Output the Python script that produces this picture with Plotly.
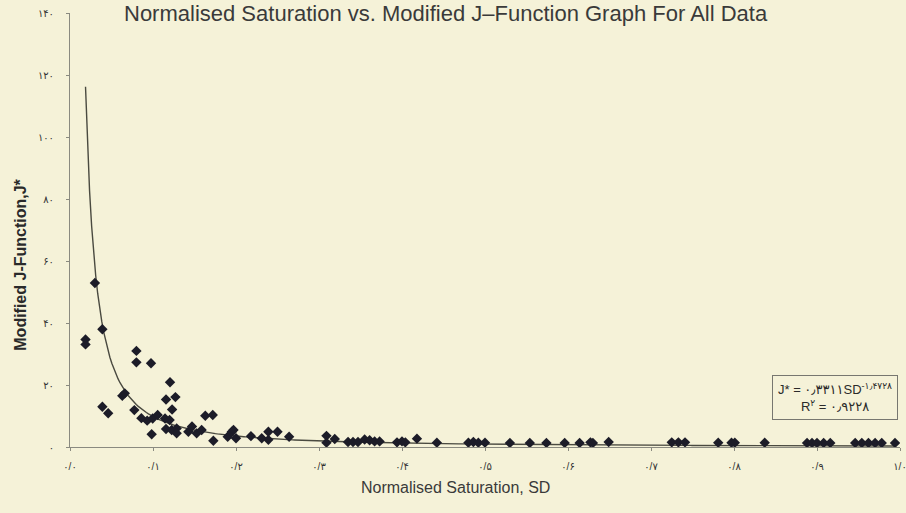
import numpy as np
import plotly.graph_objects as go

# ---- data ----
sd = [0.0187, 0.0187, 0.030, 0.039, 0.039, 0.046, 0.063, 0.066, 0.0775, 0.080,
      0.080, 0.086, 0.093, 0.0976, 0.0984, 0.0996, 0.1056, 0.1145, 0.1157, 0.1157,
      0.120, 0.1205, 0.1225, 0.123, 0.127, 0.1285, 0.1285, 0.1426, 0.147, 0.1526,
      0.1586, 0.163, 0.172, 0.1727, 0.190, 0.195, 0.197, 0.200, 0.218, 0.231,
      0.239, 0.239, 0.250, 0.264, 0.309, 0.309, 0.319, 0.335, 0.341, 0.347,
      0.355, 0.361, 0.367, 0.373, 0.394, 0.400, 0.404, 0.418, 0.442, 0.480,
      0.486, 0.492, 0.500, 0.530, 0.554, 0.574, 0.596, 0.614, 0.627, 0.630,
      0.649, 0.725, 0.733, 0.741, 0.781, 0.797, 0.801, 0.837, 0.888, 0.894,
      0.900, 0.908, 0.916, 0.946, 0.954, 0.962, 0.970, 0.978, 0.994]
jstar = [34.7, 33.1, 52.9, 38.0, 13.0, 10.9, 16.5, 17.3, 11.9, 31.0,
         27.3, 9.3, 8.5, 27.0, 4.1, 9.2, 10.3, 9.2, 15.3, 5.8,
         8.7, 20.9, 5.5, 12.1, 16.1, 6.0, 4.4, 4.9, 6.6, 4.4,
         5.5, 10.1, 10.3, 2.0, 3.3, 4.9, 5.5, 2.8, 3.5, 2.8,
         4.9, 2.3, 4.9, 3.3, 3.6, 1.4, 2.6, 1.6, 1.6, 1.6,
         2.4, 2.2, 1.8, 1.8, 1.5, 1.8, 1.5, 2.7, 1.4, 1.4,
         1.6, 1.4, 1.4, 1.3, 1.3, 1.3, 1.3, 1.3, 1.5, 1.3,
         1.6, 1.5, 1.5, 1.5, 1.4, 1.4, 1.4, 1.4, 1.3, 1.3,
         1.3, 1.3, 1.3, 1.3, 1.3, 1.3, 1.3, 1.3, 1.3]

fit_coef = 0.3311
fit_exp = -1.4728
eq_text = "J* = ۰٫۳۳۱۱SD<sup>-۱٫۴۷۲۸</sup>"
r2_text = "R<sup>۲</sup> = ۰٫۹۲۲۸"

x_tick_vals = [0.0, 0.1, 0.2, 0.3, 0.4, 0.5, 0.6, 0.7, 0.8, 0.9, 1.0]
x_tick_text = ["۰/۰", "۰/۱", "۰/۲", "۰/۳", "۰/۴", "۰/۵", "۰/۶", "۰/۷", "۰/۸", "۰/۹", "۱/۰"]
y_tick_vals = [0, 20, 40, 60, 80, 100, 120, 140]
y_tick_text = ["۰", "۲۰", "۴۰", "۶۰", "۸۰", "۱۰۰", "۱۲۰", "۱۴۰"]

title_text = "Normalised Saturation vs. Modified J\u2013Function Graph For All Data"
x_title = "Normalised Saturation, SD"
y_title = "Modified J-Function,J*"

# ---- figure ----
bg = "#f5f2d8"
fig = go.Figure()

xs = np.linspace(min(sd), max(sd), 400)
fig.add_trace(go.Scatter(x=xs, y=fit_coef * xs ** fit_exp, mode="lines",
                         line=dict(color="#4a4a40", width=1.4), hoverinfo="skip",
                         showlegend=False))
fig.add_trace(go.Scatter(x=sd, y=jstar, mode="markers",
                         marker=dict(symbol="diamond", size=8, color="#1c1c28"),
                         showlegend=False))

fig.update_layout(
    width=906, height=513,
    paper_bgcolor=bg, plot_bgcolor=bg,
    margin=dict(l=70, r=6, t=13, b=66, autoexpand=False),
    font=dict(family="Liberation Sans, Arial, DejaVu Sans", color="#333333"),
    showlegend=False,
)
fig.update_xaxes(range=[0, 1.0], tickvals=x_tick_vals, ticktext=x_tick_text,
                 automargin=False, ticklabelstandoff=7, ticklabeloverflow="allow",
                 showgrid=False, zeroline=False, showline=True,
                 linecolor="#8a8a80", linewidth=1, ticks="outside", ticklen=3,
                 tickcolor="#8a8a80", tickfont=dict(size=10, color="#333333"))
fig.update_yaxes(range=[0, 140], tickvals=y_tick_vals, ticktext=y_tick_text,
                 automargin=False, ticklabelstandoff=10, ticklabeloverflow="allow",
                 showgrid=False, zeroline=False, showline=True,
                 linecolor="#8a8a80", linewidth=1, ticks="outside", ticklen=3,
                 tickcolor="#8a8a80", tickfont=dict(size=10, color="#333333"))

fig.add_annotation(text=title_text, xref="paper", yref="paper", x=0.453, y=1.0,
                   xanchor="center", yanchor="middle", showarrow=False,
                   font=dict(size=22, color="#3a3a3a"))
fig.add_annotation(text=x_title, x=0.464, y=0.0, xref="paper", yref="paper",
                   xanchor="center", yanchor="middle", yshift=-40, showarrow=False,
                   font=dict(size=16, color="#3a3a3a"))
fig.add_annotation(text="<b>" + y_title + "</b>", x=0, y=0.42, xref="paper", yref="paper",
                   xanchor="center", yanchor="middle", xshift=-49, textangle=-90,
                   showarrow=False, font=dict(size=16, color="#2a2a2a"))
fig.add_annotation(text=eq_text + "<br>" + r2_text, x=0.997, y=0.062,
                   xref="paper", yref="paper", xanchor="right", yanchor="bottom",
                   showarrow=False, align="center", bgcolor=bg,
                   bordercolor="#777770", borderwidth=1, borderpad=5,
                   font=dict(size=13, color="#2a2a2a"))

fig.write_html("out.html", config={"displayModeBar": False},
               post_script="document.body.style.margin='0px';")
